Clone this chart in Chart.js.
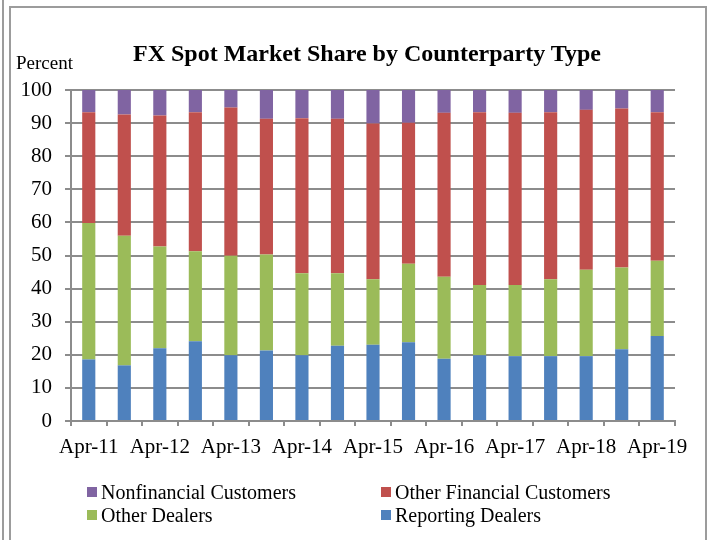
<!DOCTYPE html>
<html>
<head>
<meta charset="utf-8">
<script src="https://cdn.jsdelivr.net/npm/chart.js@4"></script>
<style>
  body { margin: 0; background: #ffffff; }
  #wrap { position: relative; width: 714px; height: 540px; overflow: hidden; font-family: "Liberation Serif", serif; color: #000; }
  #chart { position: absolute; left: 0; top: 0; }
  .outer-line { position: absolute; left: 2px; top: 0; width: 2px; height: 540px; background: #9c9c9c; }
  .frame { position: absolute; left: 9px; top: 6px; width: 694px; height: 560px; border: 2px solid #9c9c9c; }
  #title { position: absolute; left: 0; top: 41px; width: 734px; text-align: center; font-size: 24px; line-height: 24px; font-weight: bold; }
  #unit { position: absolute; left: 16px; top: 53px; font-size: 19px; line-height: 19px; }
  .legend-item { position: absolute; font-size: 20px; line-height: 20px; white-space: nowrap; }
  .legend-box { position: absolute; width: 10px; height: 10px; }
</style>
</head>
<body>
<div id="wrap">
  <div class="outer-line"></div>
  <div class="frame"></div>
  <canvas id="chart" width="714" height="540"></canvas>
  <div id="title">FX Spot Market Share by Counterparty Type</div>
  <div id="unit">Percent</div>
  <div id="legend"></div>
</div>
<script>
const categories = ["Apr-11", "Oct-11", "Apr-12", "Oct-12", "Apr-13", "Oct-13", "Apr-14", "Oct-14",
  "Apr-15", "Oct-15", "Apr-16", "Oct-16", "Apr-17", "Oct-17", "Apr-18", "Oct-18", "Apr-19"];

const reportingDealers = [18.6, 16.8, 22.0, 24.1, 19.9, 21.3, 19.9, 22.7, 23.0, 23.8, 18.8, 19.9, 19.6, 19.6, 19.6, 21.7, 25.7];
const otherDealers = [41.2, 39.2, 30.7, 27.2, 30.0, 29.0, 24.7, 21.9, 19.8, 23.7, 24.8, 21.2, 21.5, 23.2, 26.1, 24.7, 22.7];
const otherFinancial = [33.5, 36.6, 39.6, 42.0, 44.8, 41.0, 46.9, 46.7, 47.1, 42.6, 49.5, 52.2, 52.0, 50.5, 48.3, 48.0, 44.9];
const nonfinancial = [6.7, 7.4, 7.7, 6.7, 5.3, 8.7, 8.5, 8.7, 10.1, 9.9, 6.9, 6.7, 6.9, 6.7, 6.0, 5.6, 6.7];

const axisGray = "#8c8c8c";
const tickFont = { family: "Liberation Serif", size: 21 };

// bottom to top
const series = [
  { label: "Reporting Dealers", data: reportingDealers, color: "#4f81bd" },
  { label: "Other Dealers", data: otherDealers, color: "#9bbb59" },
  { label: "Other Financial Customers", data: otherFinancial, color: "#c0504d" },
  { label: "Nonfinancial Customers", data: nonfinancial, color: "#8064a2" },
];

// legend is laid out 2 x 2 like the original
const legendSlots = [
  { label: "Nonfinancial Customers", x: 87, y: 482 },
  { label: "Other Financial Customers", x: 381, y: 482 },
  { label: "Other Dealers", x: 87, y: 505 },
  { label: "Reporting Dealers", x: 381, y: 505 },
];

function buildLegend() {
  let legend = document.getElementById("legend");
  for (let slot of legendSlots) {
    let s = series.find((d) => d.label === slot.label);
    let box = document.createElement("div");
    box.className = "legend-box";
    box.style.left = slot.x + "px";
    box.style.top = slot.y + 5 + "px";
    box.style.background = s.color;
    legend.appendChild(box);
    let item = document.createElement("div");
    item.className = "legend-item";
    item.style.left = slot.x + 14 + "px";
    item.style.top = slot.y + "px";
    item.textContent = s.label;
    legend.appendChild(item);
  }
}

function plotChart() {
  let context = document.getElementById("chart").getContext("2d");
  new Chart(context, {
    type: "bar",
    data: {
      labels: categories,
      datasets: series.map((s) => ({
        label: s.label,
        data: s.data,
        backgroundColor: s.color,
        borderWidth: 0,
        categoryPercentage: 1,
        barPercentage: 0.37,
      })),
    },
    options: {
      responsive: false,
      animation: false,
      devicePixelRatio: 1,
      layout: { padding: { top: 90, right: 39, bottom: 79, left: 0 } },
      plugins: {
        legend: { display: false },
        title: { display: false },
        tooltip: { enabled: false },
      },
      scales: {
        x: {
          stacked: true,
          afterFit: (scale) => { scale.height = 40; },
          grid: { offset: true, drawOnChartArea: false, color: axisGray, lineWidth: 2, tickLength: 5 },
          border: { color: axisGray, width: 2 },
          ticks: {
            color: "#000",
            font: tickFont,
            padding: 9,
            autoSkip: false,
            maxRotation: 0,
            callback: (value, index) => (index % 2 === 0 ? categories[index] : ""),
          },
        },
        y: {
          stacked: true,
          min: 0,
          max: 100,
          afterFit: (scale) => { scale.width = 71; },
          grid: { color: axisGray, lineWidth: 2, tickLength: 6 },
          border: { color: axisGray, width: 2 },
          ticks: { stepSize: 10, color: "#000", font: tickFont, padding: 13 },
        },
      },
    },
  });
}

buildLegend();
plotChart();
</script>
</body>
</html>
